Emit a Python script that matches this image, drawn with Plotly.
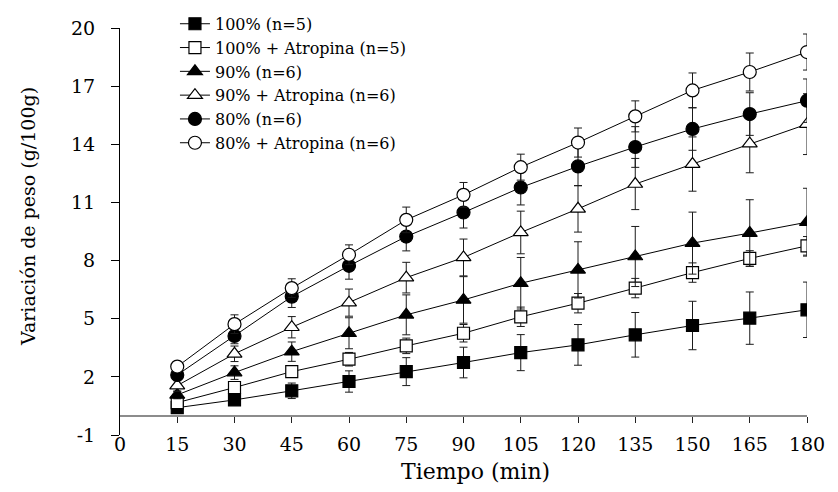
import plotly.graph_objects as go

# Time points (min)
tiempo = [15, 30, 45, 60, 75, 90, 105, 120, 135, 150, 165, 180]

# Mean weight change (g/100g) and SD for each group
g100 = [0.41, 0.81, 1.28, 1.76, 2.27, 2.74, 3.25, 3.65, 4.17, 4.65, 5.03, 5.46]
g100_sd = [0.15, 0.22, 0.40, 0.55, 0.72, 0.79, 0.93, 1.05, 1.15, 1.25, 1.35, 1.43]

g100a = [0.67, 1.45, 2.27, 2.91, 3.60, 4.25, 5.10, 5.80, 6.58, 7.38, 8.11, 8.76]
g100a_sd = [0.15, 0.25, 0.30, 0.35, 0.40, 0.45, 0.50, 0.50, 0.50, 0.50, 0.40, 0.48]

g90 = [1.07, 2.22, 3.30, 4.25, 5.20, 5.97, 6.83, 7.52, 8.21, 8.90, 9.42, 9.98]
g90_sd = [0.20, 0.35, 0.50, 0.80, 1.03, 1.20, 1.33, 1.45, 1.55, 1.60, 1.72, 1.75]

g90a = [1.55, 3.19, 4.56, 5.83, 7.12, 8.16, 9.45, 10.67, 11.95, 12.98, 14.03, 15.04]
g90a_sd = [0.30, 0.40, 0.55, 0.70, 0.79, 0.95, 1.10, 1.20, 1.32, 1.40, 1.50, 1.57]

g80 = [2.10, 4.11, 6.14, 7.73, 9.24, 10.48, 11.77, 12.86, 13.86, 14.79, 15.56, 16.25]
g80_sd = [0.30, 0.40, 0.56, 0.69, 0.74, 0.80, 0.90, 1.00, 1.05, 1.10, 1.10, 1.12]

g80a = [2.53, 4.72, 6.58, 8.30, 10.10, 11.39, 12.82, 14.09, 15.44, 16.78, 17.73, 18.76]
g80a_sd = [0.20, 0.48, 0.48, 0.51, 0.66, 0.64, 0.67, 0.75, 0.80, 0.90, 0.98, 0.93]

nombres = [
    "100% (n=5)",
    "100% + Atropina (n=5)",
    "90% (n=6)",
    "90% + Atropina (n=6)",
    "80% (n=6)",
    "80% + Atropina (n=6)",
]

x_ticks = [0, 15, 30, 45, 60, 75, 90, 105, 120, 135, 150, 165, 180]
y_ticks = [-1, 2, 5, 8, 11, 14, 17, 20]
y_labels = [str(v) for v in y_ticks]

FONT = "DejaVu Serif"

series = [
    (g100, g100_sd, "square", "black", 12),
    (g100a, g100a_sd, "square", "white", 12),
    (g90, g90_sd, "triangle-up", "black", 13),
    (g90a, g90a_sd, "triangle-up", "white", 13),
    (g80, g80_sd, "circle", "black", 13),
    (g80a, g80a_sd, "circle", "white", 13),
]

fig = go.Figure()

# empty trace so the baseline axis (x2) is rendered
fig.add_trace(go.Scatter(x=[], y=[], xaxis="x2", showlegend=False,
                         hoverinfo="skip"))

for (vals, sd, sym, fill, size), name in zip(series, nombres):
    fig.add_trace(go.Scatter(
        x=tiempo, y=vals, name=name, mode="lines+markers",
        line=dict(color="black", width=1),
        marker=dict(symbol=sym, size=size, color=fill,
                    line=dict(color="black", width=1.2)),
        error_y=dict(type="data", array=sd, visible=True,
                     color="#1a1a1a", thickness=1, width=4),
    ))

fig.update_layout(
    width=838, height=492,
    margin=dict(l=120, r=31, t=28, b=57, autoexpand=False),
    paper_bgcolor="white", plot_bgcolor="white",
    font=dict(family=FONT, color="black"),
    showlegend=True,
    legend=dict(
        x=0.08, xanchor="left",
        y=1.052, yanchor="top",
        bgcolor="rgba(0,0,0,0)", font=dict(family=FONT, size=16),
        itemwidth=30, tracegroupgap=0,
    ),
    xaxis=dict(
        range=[0, 180], tickvals=x_ticks, showline=False, ticks="",
        showgrid=False, zeroline=False,
        tickfont=dict(family=FONT, size=19), ticklabelstandoff=-4,
    ),
    # baseline at y = 0 carrying the tick marks
    xaxis2=dict(
        range=[0, 180], overlaying="x", anchor="free", position=1 / 21,
        tickvals=x_ticks[1:], showticklabels=False, showgrid=False,
        zeroline=False, showline=True, linecolor="#8c8c8c", linewidth=2,
        ticks="outside", ticklen=6, tickcolor="#222222", tickwidth=1,
    ),
    yaxis=dict(
        range=[-1, 20], tickvals=y_ticks, ticktext=y_labels,
        showline=True, linecolor="black",
        linewidth=1, ticks="outside", ticklen=8, tickcolor="black",
        showgrid=False, zeroline=False,
        tickfont=dict(family=FONT, size=19), ticklabelstandoff=12,
    ),
    annotations=[
        dict(text="Variación de peso (g/100g)", textangle=-90,
             xref="paper", yref="paper", x=-0.133, y=0.537,
             xanchor="center", yanchor="middle",
             showarrow=False, font=dict(family=FONT, size=19)),
        dict(text="Tiempo (min)", xref="paper", yref="paper",
             x=0.518, y=-0.09, xanchor="center", yanchor="middle",
             showarrow=False, font=dict(family=FONT, size=22)),
    ],
)

fig.write_html("out.html")
